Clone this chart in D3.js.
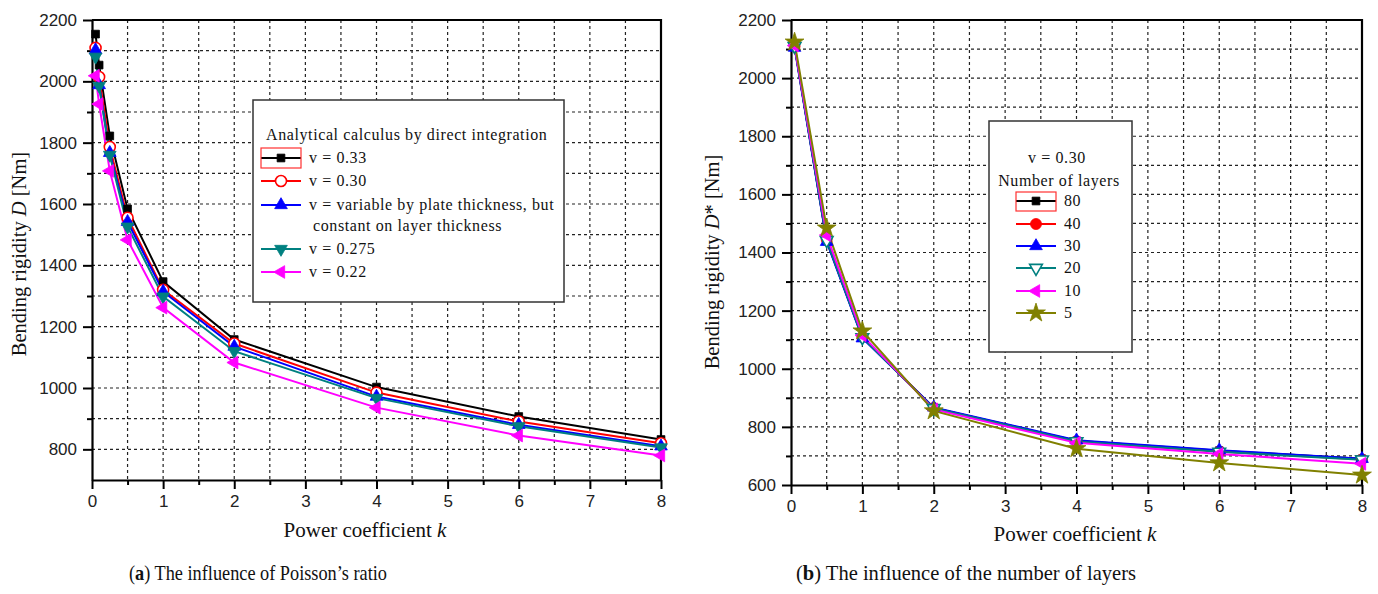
<!DOCTYPE html>
<html><head><meta charset="utf-8">
<script src="https://cdn.jsdelivr.net/npm/d3@7"></script>
<style>
body{margin:0;background:#fff;}
svg{display:block;}
text{font-family:"Liberation Serif","Times New Roman",serif;fill:#111;}
.tick text{font-family:"Liberation Sans",Arial,sans-serif;font-size:17px;fill:#222;}
.lg{font-size:16px;letter-spacing:0.6px;}
</style></head><body>
<svg id="chart" width="1378" height="594"></svg>
<script>
// Panel (a): bending rigidity vs power coefficient for several Poisson's ratios
const kValuesA = [0.05, 0.1, 0.25, 0.5, 1, 2, 4, 6, 8];
const nu033 = [2154, 2053, 1822, 1584, 1347, 1158, 1003, 907, 832];
const nu030 = [2109, 2014, 1786, 1555, 1320, 1145, 985, 891, 820];
const nuVariable = [2102, 1988, 1767, 1542, 1314, 1135, 972, 880, 810];
const nu0275 = [2080, 1985, 1760, 1526, 1298, 1120, 967, 875, 806];
const nu022 = [2018, 1926, 1708, 1483, 1262, 1083, 936, 845, 780];
const legendA = ["v = 0.33", "v = 0.30", "v = variable by plate thickness, but", "v = 0.275", "v = 0.22"];

// Panel (b): bending rigidity vs power coefficient for several layer counts
const kValuesB = [0.05, 0.5, 1, 2, 4, 6, 8];
const layers80 = [2110, 1440, 1108, 865, 752, 718, 690];
const layers40 = [2110, 1445, 1110, 865, 750, 715, 688];
const layers30 = [2105, 1437, 1105, 867, 754, 720, 690];
const layers20 = [2110, 1442, 1108, 864, 750, 714, 687];
const layers10 = [2112, 1460, 1115, 860, 745, 707, 673];
const layers5 = [2124, 1484, 1130, 855, 725, 676, 634];
const legendB = ["80", "40", "30", "20", "10", "5"];

const xTicks = [0, 1, 2, 3, 4, 5, 6, 7, 8];
const yTicksA = [800, 1000, 1200, 1400, 1600, 1800, 2000, 2200];
const yTicksB = [600, 800, 1000, 1200, 1400, 1600, 1800, 2000, 2200];

const svg = d3.select("#chart");

function markerPath(shape, size) {
  const types = {square: d3.symbolSquare, circle: d3.symbolCircle, up: d3.symbolTriangle,
    down: d3.symbolTriangle, left: d3.symbolTriangle, star: d3.symbolStar};
  return d3.symbol().type(types[shape]).size(size)();
}
function markerRot(shape) {
  return shape === "down" ? 180 : shape === "left" ? -90 : 0;
}
function drawMarker(g, shape, cx, cy, color, hollow) {
  const sizes = {square: 60, circle: 95, up: 70, down: 70, left: 70, star: 110};
  g.append("path")
    .attr("d", markerPath(shape, sizes[shape]))
    .attr("transform", `translate(${cx},${cy}) rotate(${markerRot(shape)})`)
    .attr("fill", hollow ? "#fff" : color)
    .attr("stroke", color)
    .attr("stroke-width", hollow ? 1.6 : 0.8);
}

function drawPanel(p) {
  const g = svg.append("g");
  const x = d3.scaleLinear().domain([0, 8]).range([p.left, p.right]);
  const y = d3.scaleLinear().domain(p.yDomain).range([p.bottom, p.top]);

  // dotted grid
  const gridX = d3.range(0.5, 8, 0.5);
  const gridY = d3.range(p.yDomain[0] + 100, p.yDomain[1], 100);
  g.append("g").selectAll("line").data(gridX).join("line")
    .attr("x1", d => x(d)).attr("x2", d => x(d)).attr("y1", p.top).attr("y2", p.bottom)
    .attr("stroke", "#222").attr("stroke-width", 1.2).attr("stroke-dasharray", "3,3");
  g.append("g").selectAll("line").data(gridY).join("line")
    .attr("y1", d => y(d)).attr("y2", d => y(d)).attr("x1", p.left).attr("x2", p.right)
    .attr("stroke", "#222").attr("stroke-width", 1.2).attr("stroke-dasharray", "3,3");

  // minor ticks
  const minorX = d3.range(0.5, 8, 1);
  const minorY = d3.range(p.yDomain[0] + 100, p.yDomain[1], 100).filter(v => !p.yTicks.includes(v));
  g.append("g").attr("transform", `translate(0,${p.bottom})`)
    .call(d3.axisBottom(x).tickValues(minorX).tickSize(5).tickFormat(""))
    .call(a => a.select(".domain").remove())
    .selectAll("line").attr("stroke-width", 2);
  g.append("g").attr("transform", `translate(${p.left},0)`)
    .call(d3.axisLeft(y).tickValues(minorY).tickSize(5).tickFormat(""))
    .call(a => a.select(".domain").remove())
    .selectAll("line").attr("stroke-width", 2);

  // major axes
  const ax = g.append("g").attr("transform", `translate(0,${p.bottom})`)
    .call(d3.axisBottom(x).tickValues(xTicks).tickSize(9).tickPadding(6).tickSizeOuter(0).tickFormat(d3.format("d")));
  ax.select(".domain").attr("stroke-width", 2.2);
  ax.selectAll(".tick line").attr("stroke-width", 2);
  const ay = g.append("g").attr("transform", `translate(${p.left},0)`)
    .call(d3.axisLeft(y).tickValues(p.yTicks).tickSize(9).tickPadding(6).tickSizeOuter(0).tickFormat(d3.format("d")));
  ay.select(".domain").attr("stroke-width", 2.2);
  ay.selectAll(".tick line").attr("stroke-width", 2);

  // top and right frame
  g.append("path")
    .attr("d", `M${p.left},${p.top}H${p.right}V${p.bottom}`)
    .attr("fill", "none").attr("stroke", "#000").attr("stroke-width", 2.2);

  // series
  const line = d3.line().x(d => x(d[0])).y(d => y(d[1]));
  p.series.forEach(s => {
    const pts = p.kValues.map((k, i) => [k, s.values[i]]);
    g.append("path").datum(pts).attr("d", line)
      .attr("fill", "none").attr("stroke", s.color).attr("stroke-width", 2);
  });
  p.series.forEach(s => {
    const mg = g.append("g");
    p.kValues.forEach((k, i) => drawMarker(mg, s.shape, x(k), y(s.values[i]), s.color, s.hollow));
  });

  // axis titles
  g.append("text").attr("x", p.xTitleX).attr("y", p.xTitleY).attr("text-anchor", "middle")
    .style("font-size", "21px")
    .call(t => { t.append("tspan").text("Power coefficient "); t.append("tspan").style("font-style", "italic").text("k"); });
  g.append("text").attr("transform", `translate(${p.yTitleX},${p.yTitleY}) rotate(-90)`)
    .attr("text-anchor", "middle").style("font-size", "20.5px")
    .call(t => {
      t.append("tspan").text("Bending rigidity ");
      t.append("tspan").style("font-style", "italic").text("D");
      t.append("tspan").text(p.yStar + " [Nm]");
    });

  // caption
  g.append("text").attr("x", p.capX).attr("y", 580).attr("text-anchor", "middle")
    .style("font-size", "22px")
    .attr("textLength", p.capWidth).attr("lengthAdjust", "spacingAndGlyphs")
    .call(t => {
      t.append("tspan").text("(");
      t.append("tspan").style("font-weight", "bold").text(p.capLetter);
      t.append("tspan").text(") " + p.caption);
    });
  return g;
}

const seriesA = [
  {values: nu033, color: "#000000", shape: "square"},
  {values: nu030, color: "#ff0000", shape: "circle", hollow: true},
  {values: nuVariable, color: "#0000ff", shape: "up"},
  {values: nu0275, color: "#008080", shape: "down"},
  {values: nu022, color: "#ff00ff", shape: "left"}
];
const seriesB = [
  {values: layers80, color: "#000000", shape: "square"},
  {values: layers40, color: "#ff0000", shape: "circle"},
  {values: layers30, color: "#0000ff", shape: "up"},
  {values: layers20, color: "#008080", shape: "down", hollow: true},
  {values: layers10, color: "#ff00ff", shape: "left"},
  {values: layers5, color: "#808000", shape: "star"}
];

const gA = drawPanel({left: 92, right: 661, top: 20, bottom: 480, yDomain: [700, 2200], yTicks: yTicksA,
  kValues: kValuesA, series: seriesA, xTitleX: 365, xTitleY: 537, yTitleX: 26, yTitleY: 254, yStar: "",
  capX: 258, capWidth: 258, capLetter: "a", caption: "The influence of Poisson\u2019s ratio"});
const gB = drawPanel({left: 791, right: 1362, top: 20, bottom: 485, yDomain: [600, 2200], yTicks: yTicksB,
  kValues: kValuesB, series: seriesB, xTitleX: 1075, xTitleY: 541, yTitleX: 719, yTitleY: 262, yStar: "*",
  capX: 966, capWidth: 340, capLetter: "b", caption: "The influence of the number of layers"});

function legendEntry(g, s, y, x1, x2, label, tx) {
  g.append("line").attr("x1", x1).attr("x2", x2).attr("y1", y).attr("y2", y)
    .attr("stroke", s.color).attr("stroke-width", 2);
  drawMarker(g, s.shape, (x1 + x2) / 2, y, s.color, s.hollow);
  if (label) g.append("text").attr("class", "lg").attr("x", tx).attr("y", y + 5).text(label);
}

// legend (a)
const lgA = gA.append("g");
lgA.append("rect").attr("x", 253).attr("y", 100).attr("width", 311).attr("height", 202)
  .attr("fill", "#fff").attr("stroke", "#333").attr("stroke-width", 1.5);
lgA.append("text").attr("class", "lg").attr("x", 266).attr("y", 140)
  .text("Analytical calculus by direct integration");
const rowsA = [158, 181, 205, 249, 272];
seriesA.forEach((s, i) => legendEntry(lgA, s, rowsA[i], 261, 301, legendA[i], 309));
lgA.append("text").attr("class", "lg").attr("x", 313).attr("y", 231).text("constant on layer thickness");
lgA.append("rect").attr("x", 261).attr("y", 148).attr("width", 40).attr("height", 20)
  .attr("fill", "none").attr("stroke", "#ff3030").attr("stroke-width", 1.2);

// legend (b)
const lgB = gB.append("g");
lgB.append("rect").attr("x", 989).attr("y", 121).attr("width", 143).attr("height", 231)
  .attr("fill", "#fff").attr("stroke", "#333").attr("stroke-width", 1.5);
lgB.append("text").attr("class", "lg").attr("x", 1057).attr("y", 163).attr("text-anchor", "middle").text("v = 0.30");
lgB.append("text").attr("class", "lg").attr("x", 1059).attr("y", 186).attr("text-anchor", "middle").text("Number of layers");
const rowsB = [201, 224, 246, 268, 291, 313];
seriesB.forEach((s, i) => legendEntry(lgB, s, rowsB[i], 1016, 1056, legendB[i], 1064));
lgB.append("rect").attr("x", 1016).attr("y", 192).attr("width", 40).attr("height", 19)
  .attr("fill", "none").attr("stroke", "#ff3030").attr("stroke-width", 1.2);
</script>
</body></html>
